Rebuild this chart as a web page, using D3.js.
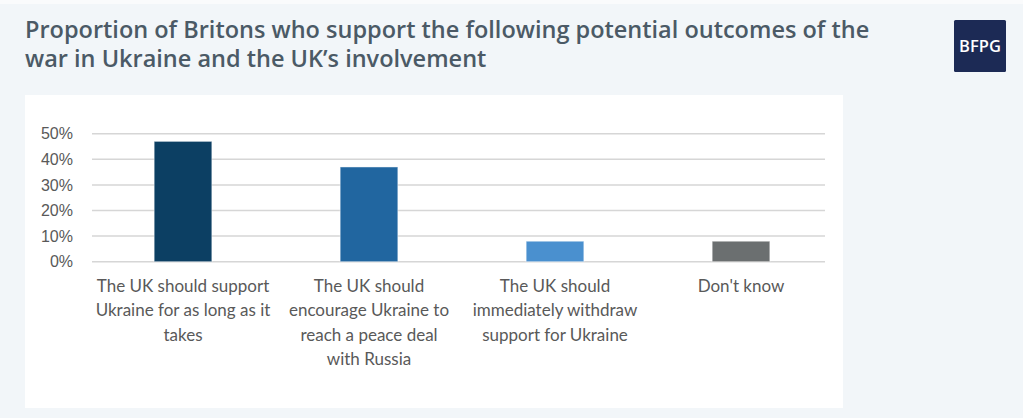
<!DOCTYPE html>
<html>
<head>
<meta charset="utf-8">
<script src="https://cdn.jsdelivr.net/npm/d3@7"></script>
<style>
  html, body { margin: 0; padding: 0; background: #f2f6f9; }
  svg { display: block; }
</style>
</head>
<body>
<svg id="chart" width="1023" height="418"></svg>
<script>
// Survey results: share of respondents backing each outcome (%)
const categories = [
  ["The UK should support", "Ukraine for as long as it", "takes"],
  ["The UK should", "encourage Ukraine to", "reach a peace deal", "with Russia"],
  ["The UK should", "immediately withdraw", "support for Ukraine"],
  ["Don't know"]
];
const values = [47, 37, 8, 8];
const barColors = ["#0c3f63", "#2166a0", "#4a90cf", "#6b6f70"];
const yTicks = [0, 10, 20, 30, 40, 50];
const titleLines = [
  "Proportion of Britons who support the following potential outcomes of the",
  "war in Ukraine and the UK\u2019s involvement"
];

const svg = d3.select("#chart");

// page background and top strip
svg.append("rect").attr("width", 1023).attr("height", 418).attr("fill", "#f2f6f9");
svg.append("rect").attr("width", 1023).attr("height", 4).attr("fill", "#fafbfc");

// title
svg.append("g").selectAll("text").data(titleLines).join("text")
  .attr("x", 25)
  .attr("y", (d, i) => 38 + i * 29)
  .attr("font-family", "Open Sans")
  .attr("font-weight", 600)
  .attr("font-size", 23.5)
  .attr("fill", "#4b5a66")
  .text(d => d);

// logo badge
const logo = svg.append("g").attr("transform", "translate(954,20)");
logo.append("rect").attr("width", 52).attr("height", 52).attr("rx", 1.5).attr("fill", "#1c2a55");
logo.append("text").attr("x", 26).attr("y", 32)
  .attr("text-anchor", "middle")
  .attr("font-family", "Open Sans").attr("font-weight", 600).attr("font-size", 16.5)
  .attr("fill", "#ffffff").text("BFPG");

// chart panel
svg.append("rect").attr("x", 25).attr("y", 95).attr("width", 818).attr("height", 313).attr("fill", "#ffffff");

const x = d3.scaleBand()
  .domain(d3.range(categories.length))
  .range([90, 834])
  .paddingInner(0.69)
  .paddingOuter(0.345);

const y = d3.scaleLinear().domain([0, 50]).range([261.7, 133.7]);

// gridlines
svg.append("g").selectAll("line").data(yTicks).join("line")
  .attr("x1", 92).attr("x2", 825)
  .attr("y1", d => y(d)).attr("y2", d => y(d))
  .attr("stroke", "#d6d6d6").attr("stroke-width", 1.5);

// y axis labels
const yAxis = d3.axisLeft(y).tickValues(yTicks).tickFormat(d => d + "%").tickSize(0).tickPadding(0);
const yg = svg.append("g").attr("transform", "translate(73,0)").call(yAxis);
yg.select(".domain").remove();
yg.selectAll("text")
  .attr("font-family", "Liberation Sans, Arial, sans-serif")
  .attr("font-size", 16)
  .attr("fill", "#595959");

// bars
svg.append("g").selectAll("rect").data(values).join("rect")
  .attr("x", (d, i) => x(i))
  .attr("width", x.bandwidth())
  .attr("y", d => y(d))
  .attr("height", d => y(0) - y(d))
  .attr("fill", (d, i) => barColors[i])
  .attr("stroke", "rgba(255,255,255,0.45)")
  .attr("stroke-width", 1);

// category labels
const lab = svg.append("g").selectAll("text").data(categories).join("text")
  .attr("x", (d, i) => x(i) + x.bandwidth() / 2)
  .attr("y", 292)
  .attr("text-anchor", "middle")
  .attr("font-family", "Lato, sans-serif")
  .attr("font-size", 17)
  .attr("fill", "#595959");
lab.selectAll("tspan").data(d => d).join("tspan")
  .attr("x", function () { return this.parentNode.getAttribute("x"); })
  .attr("dy", (d, i) => i === 0 ? 0 : 24.3)
  .text(d => d);
</script>
</body>
</html>
